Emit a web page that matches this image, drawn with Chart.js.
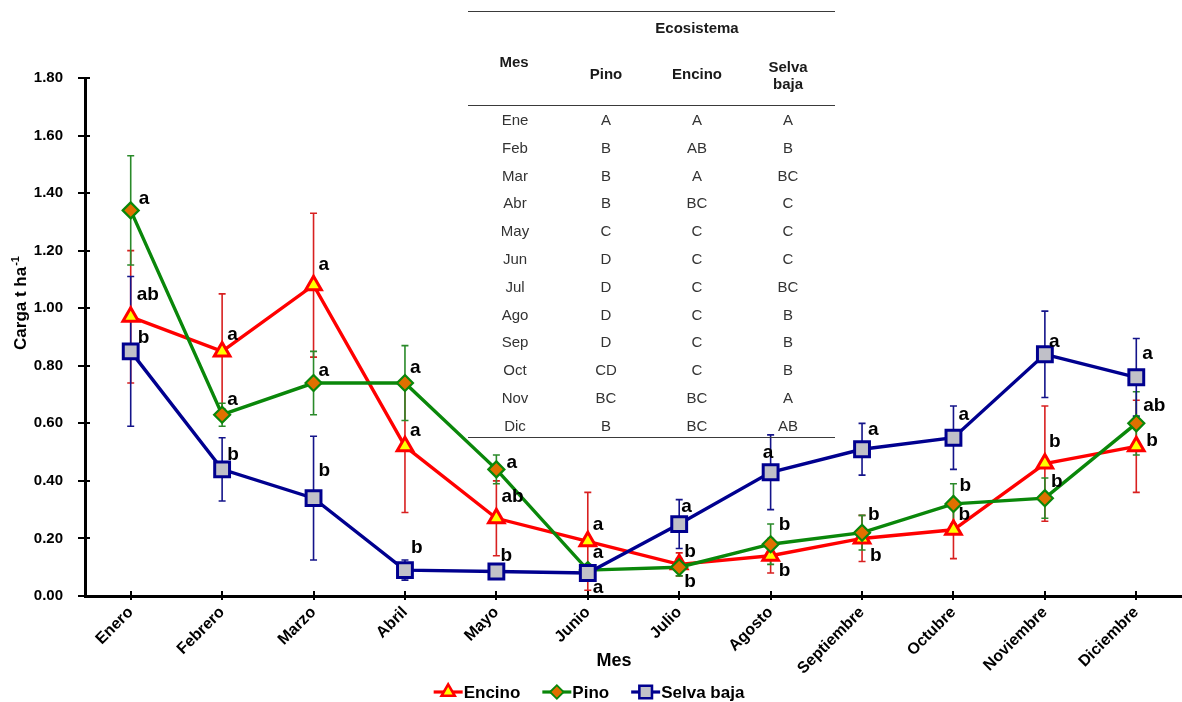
<!DOCTYPE html>
<html><head><meta charset="utf-8">
<script src="https://cdn.jsdelivr.net/npm/chart.js@4.4.1/dist/chart.umd.min.js"></script>
<style>
html,body{margin:0;padding:0;background:#fff;}
#wrap{position:relative;width:1182px;height:702px;overflow:hidden;}
#wrap canvas{position:absolute;left:0;top:0;}
#tbl{position:absolute;left:0;top:0;width:1182px;height:702px;pointer-events:none;font-family:"Liberation Sans",Arial,sans-serif;}
.t{position:absolute;transform:translate(-50%,-50%);white-space:nowrap;line-height:1;}
.cell{font-size:15px;color:#333;}
.head{font-size:15px;font-weight:bold;color:#1a1a1a;}
.hr{position:absolute;height:0;border-top:1.6px solid #3a3a3a;}
</style></head><body>
<div id="wrap"><canvas id="c" width="1182" height="702"></canvas><div id="tbl"></div></div>
<script>
// ---------- DATA ----------
const months = ['Enero','Febrero','Marzo','Abril','Mayo','Junio','Julio','Agosto','Septiembre','Octubre','Noviembre','Diciembre'];
const seriesNames = ['Encino','Pino','Selva baja'];
const encino    = [0.97,0.85,1.08,0.52,0.27,0.19,0.11,0.14,0.20,0.23,0.46,0.52];
const encinoErr = [0.23,0.20,0.25,0.23,0.13,0.17,0.04,0.06,0.08,0.10,0.20,0.16];
const pino      = [1.34,0.63,0.74,0.74,0.44,0.09,0.10,0.18,0.22,0.32,0.34,0.60];
const pinoErr   = [0.19,0.04,0.11,0.13,0.05,0.02,0.03,0.07,0.06,0.07,0.07,0.11];
const selva     = [0.85,0.44,0.34,0.09,0.085,0.08,0.25,0.43,0.51,0.55,0.84,0.76];
const selvaErr  = [0.26,0.11,0.215,0.035,0.012,0.015,0.085,0.13,0.09,0.11,0.15,0.135];
const encinoLetters = ['ab','a','a','a','ab','a','b','b','b','b','b','b'];
const pinoLetters   = ['a','a','a','a','a','a','b','b','b','b','b','ab'];
const selvaLetters  = ['b','b','b','b','b','a','a','a','a','a','a','a'];
const yAxisTitle = 'Carga t ha';
const yAxisTitleSup = '-1';
const xAxisTitle = 'Mes';
// table
const tableTitle = 'Ecosistema';
const tableHeadMes = 'Mes';
const tableHeadCols = [['Pino'],['Encino'],['Selva','baja']];
const tableMonths = ['Ene','Feb','Mar','Abr','May','Jun','Jul','Ago','Sep','Oct','Nov','Dic'];
const tablePino   = ['A','B','B','B','C','D','D','D','D','CD','BC','B'];
const tableEncino = ['A','AB','A','BC','C','C','C','C','C','C','BC','BC'];
const tableSelva  = ['A','B','BC','C','C','C','BC','B','B','B','A','AB'];

// ---------- STYLE (label placement offsets, px) ----------
const encinoLblOff = [[6,-22],[5,-17],[5,-20],[5,-16],[5,-22],[5,-17],[5,-13],[8,15],[8,17],[5,-15],[4,-22],[10,-6]];
const pinoLblOff   = [[8,-12],[5,-15],[5,-12],[5,-15],[10,-7],[5,18],[5,15],[8,-19],[6,-18],[6,-18],[6,-16],[7,-18]];
const selvaLblOff  = [[7,-14],[5,-15],[5,-27],[6,-22],[4,-16],[5,-20],[2,-17],[-8,-19],[6,-19],[5,-23],[4,-13],[6,-24]];
const FONT = '"Liberation Sans", Arial, sans-serif';

const RED='#FF0000', GREEN='#0A870A', NAVY='#00008F';

const datasets = [
  {label:seriesNames[0], data:encino, err:encinoErr, letters:encinoLetters, off:encinoLblOff,
   borderColor:RED, backgroundColor:'#FFFF00', borderWidth:3.4, pointStyle:'triangle', pointRadius:9,
   pointBorderColor:RED, pointBackgroundColor:'#FFFF00', pointBorderWidth:3, errColor:'#D82020', order:3},
  {label:seriesNames[1], data:pino, err:pinoErr, letters:pinoLetters, off:pinoLblOff,
   borderColor:GREEN, backgroundColor:'#E07000', borderWidth:3.4, pointStyle:'rectRot', pointRadius:8,
   pointBorderColor:GREEN, pointBackgroundColor:'#E07000', pointBorderWidth:2.2, errColor:'#2A8A2A', order:2},
  {label:seriesNames[2], data:selva, err:selvaErr, letters:selvaLetters, off:selvaLblOff,
   borderColor:NAVY, backgroundColor:'#C0C0C8', borderWidth:3.4, pointStyle:'rect', pointRadius:10.5,
   pointBorderColor:NAVY, pointBackgroundColor:'#C0C0C8', pointBorderWidth:3, errColor:'#14148A', order:1}
];

const extras = {
  id:'extras',
  beforeDatasetsDraw(chart){
    const ctx=chart.ctx, y=chart.scales.y;
    ctx.save();
    chart.data.datasets.forEach((ds,di)=>{
      const meta=chart.getDatasetMeta(di);
      ctx.strokeStyle=ds.errColor; ctx.lineWidth=1.6;
      meta.data.forEach((pt,i)=>{
        const v=ds.data[i], e=ds.err[i];
        const y1=y.getPixelForValue(v+e), y2=y.getPixelForValue(v-e);
        ctx.beginPath();
        ctx.moveTo(pt.x,y1); ctx.lineTo(pt.x,y2);
        ctx.moveTo(pt.x-3.5,y1); ctx.lineTo(pt.x+3.5,y1);
        ctx.moveTo(pt.x-3.5,y2); ctx.lineTo(pt.x+3.5,y2);
        ctx.stroke();
      });
    });
    ctx.restore();
  },
  afterDatasetsDraw(chart){
    const ctx=chart.ctx;
    ctx.save();
    ctx.fillStyle='#000'; ctx.font='bold 19px '+FONT; ctx.textAlign='left'; ctx.textBaseline='middle';
    chart.data.datasets.forEach((ds,di)=>{
      const meta=chart.getDatasetMeta(di);
      meta.data.forEach((pt,i)=>{
        const o=ds.off[i];
        ctx.fillText(ds.letters[i], pt.x+o[0], pt.y+o[1]);
      });
    });
    ctx.restore();
  },
  afterDraw(chart){
    const ctx=chart.ctx, ca=chart.chartArea, xs=chart.scales.x, ys=chart.scales.y;
    ctx.save();
    // inner tick parts (ticks cross the axis)
    ctx.strokeStyle='#000'; ctx.lineWidth=2;
    ys.ticks.forEach((t,i)=>{ const py=Math.round(ys.getPixelForTick(i)); ctx.beginPath(); ctx.moveTo(ca.left,py); ctx.lineTo(ca.left+5,py); ctx.stroke(); });
    xs.ticks.forEach((t,i)=>{ const px=Math.round(xs.getPixelForTick(i)); ctx.beginPath(); ctx.moveTo(px,ca.bottom); ctx.lineTo(px,ca.bottom-5); ctx.stroke(); });
    // y axis title with superscript
    ctx.fillStyle='#000'; ctx.textBaseline='alphabetic'; ctx.textAlign='left';
    const fMain='bold 17px '+FONT, fSup='bold 11px '+FONT;
    ctx.font=fMain; const w1=ctx.measureText(yAxisTitle).width;
    ctx.font=fSup; const w2=ctx.measureText(yAxisTitleSup).width;
    const W=w1+w2+1;
    ctx.translate(26,303); ctx.rotate(-Math.PI/2);
    ctx.font=fMain; ctx.fillText(yAxisTitle,-W/2,0);
    ctx.font=fSup; ctx.fillText(yAxisTitleSup,-W/2+w1+1,-7);
    ctx.setTransform(1,0,0,1,0,0);
    // x axis title
    ctx.font='bold 18px '+FONT; ctx.textAlign='center'; ctx.textBaseline='middle';
    ctx.fillText(xAxisTitle,614,661);
    // legend
    ctx.font='bold 17px '+FONT; ctx.textAlign='left';
    const lineLen=29, gap=22;
    const widths=chart.data.datasets.map(d=>ctx.measureText(d.label).width);
    let total=0; widths.forEach((w,i)=>{ total+=lineLen+1+w+(i<widths.length-1?gap:0); });
    let x=589-total/2; const ly=692;
    chart.data.datasets.forEach((ds,i)=>{
      ctx.strokeStyle=ds.borderColor; ctx.lineWidth=3.2;
      ctx.beginPath(); ctx.moveTo(x,ly); ctx.lineTo(x+lineLen,ly); ctx.stroke();
      ctx.fillStyle=ds.pointBackgroundColor; ctx.strokeStyle=ds.pointBorderColor; ctx.lineWidth=ds.pointBorderWidth*0.85;
      Chart.helpers.drawPoint(ctx,{pointStyle:ds.pointStyle,radius:ds.pointRadius*0.85,borderWidth:ds.pointBorderWidth*0.85},x+lineLen/2,ly);
      ctx.fillStyle='#000';
      ctx.fillText(ds.label,x+lineLen+1,ly+1);
      x+=lineLen+1+widths[i]+gap;
    });
    ctx.restore();
  }
};

new Chart(document.getElementById('c'),{
  type:'line',
  data:{labels:months, datasets:datasets},
  options:{
    responsive:false, animation:false, devicePixelRatio:1,
    layout:{autoPadding:false, padding:{top:78,right:0,left:0,bottom:28}},
    elements:{line:{tension:0}},
    plugins:{legend:{display:false},tooltip:{enabled:false}},
    scales:{
      x:{
        offset:true,
        grid:{display:true,drawOnChartArea:false,drawTicks:true,tickLength:4,color:'#000',lineWidth:2},
        border:{display:true,color:'#000',width:3},
        ticks:{minRotation:45,maxRotation:45,color:'#000',padding:3,font:{family:FONT,size:16,weight:'bold'}},
        afterFit(s){ s.height=78; s.paddingRight=0; s.paddingLeft=0; }
      },
      y:{
        min:0,max:1.8,
        grid:{display:true,drawOnChartArea:false,drawTicks:true,tickLength:7,color:'#000',lineWidth:2},
        border:{display:true,color:'#000',width:3},
        ticks:{stepSize:0.2,color:'#000',padding:15,font:{family:FONT,size:15,weight:'bold'},callback:v=>Number(v).toFixed(2)},
        afterFit(s){ s.width=85; }
      }
    }
  },
  plugins:[extras]
});

// ---------- TABLE (HTML text overlay) ----------
(function(){
  const box=document.getElementById('tbl');
  function txt(s,x,y,cls){ const d=document.createElement('div'); d.className='t '+cls; d.textContent=s; d.style.left=x+'px'; d.style.top=y+'px'; box.appendChild(d); }
  function hr(x1,x2,y){ const d=document.createElement('div'); d.className='hr'; d.style.left=x1+'px'; d.style.width=(x2-x1)+'px'; d.style.top=y+'px'; box.appendChild(d); }
  const colX=[515,606,697,788];
  hr(468,835,11);
  txt(tableTitle,697,27,'head');
  txt(tableHeadMes,514,61,'head');
  tableHeadCols.forEach((lines,c)=>{
    if(lines.length===1) txt(lines[0],colX[c+1],73,'head');
    else lines.forEach((l,k)=>txt(l,colX[c+1],66+k*17,'head'));
  });
  hr(468,835,105);
  tableMonths.forEach((m,i)=>{
    const y=119+i*27.8;
    txt(m,colX[0],y,'cell'); txt(tablePino[i],colX[1],y,'cell'); txt(tableEncino[i],colX[2],y,'cell'); txt(tableSelva[i],colX[3],y,'cell');
  });
  hr(468,835,437);
})();
</script>
</body></html>
